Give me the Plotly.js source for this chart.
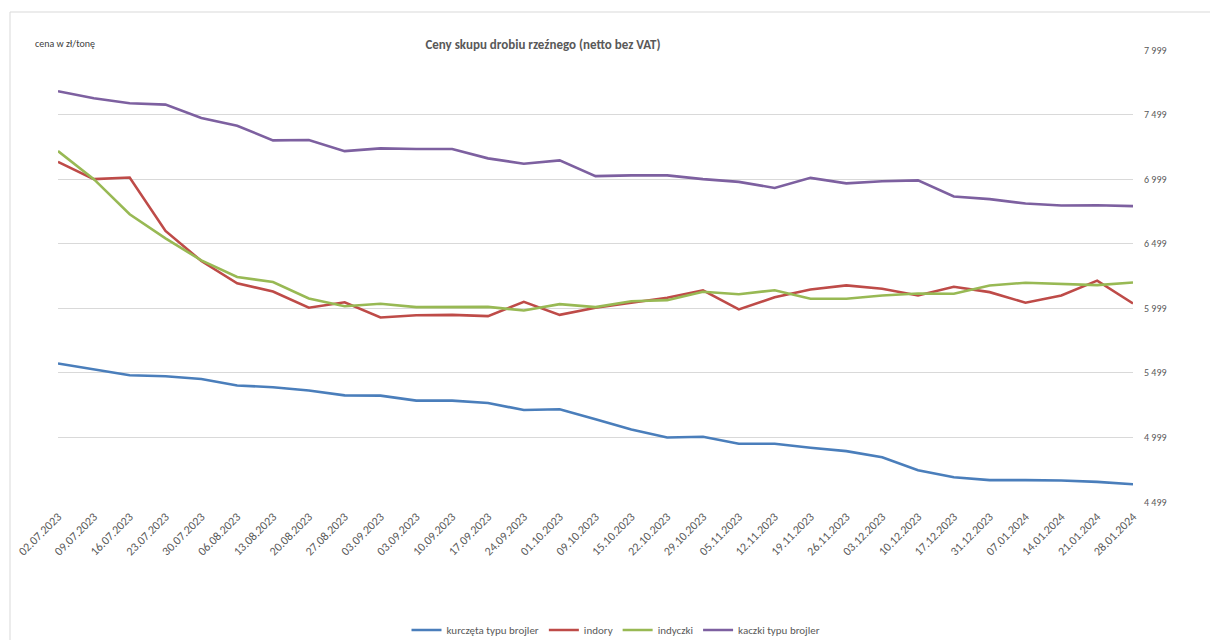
<!DOCTYPE html>
<html>
<head>
<meta charset="utf-8">
<script src="https://cdn.plot.ly/plotly-3.0.1.min.js"></script>
<style>
html,body{margin:0;padding:0;background:#fff;}
#chart{width:1210px;height:640px;}
</style>
</head>
<body>
<div id="chart"></div>
<script>
const dateLabels = ["02.07.2023","09.07.2023","16.07.2023","23.07.2023","30.07.2023","06.08.2023","13.08.2023","20.08.2023","27.08.2023","03.09.2023","03.09.2023","10.09.2023","17.09.2023","24.09.2023","01.10.2023","09.10.2023","15.10.2023","22.10.2023","29.10.2023","05.11.2023","12.11.2023","19.11.2023","26.11.2023","03.12.2023","10.12.2023","17.12.2023","31.12.2023","07.01.2024","14.01.2024","21.01.2024","28.01.2024"];

const kurczeta = [5572,5525,5481,5473,5452,5401,5388,5362,5325,5323,5284,5284,5266,5211,5217,5139,5061,4999,5004,4950,4950,4919,4893,4846,4745,4691,4668,4668,4665,4655,4637];
const indory = [7133,6999,7012,6598,6365,6192,6129,6003,6046,5928,5945,5948,5938,6049,5948,6003,6042,6080,6137,5990,6084,6145,6176,6150,6098,6166,6124,6042,6098,6213,6036];
const indyczki = [7216,6999,6727,6541,6370,6241,6202,6075,6015,6034,6008,6008,6010,5982,6031,6008,6054,6062,6127,6108,6139,6073,6073,6098,6114,6111,6176,6197,6189,6178,6199];
const kaczki = [7680,7626,7587,7576,7473,7413,7299,7302,7216,7237,7232,7232,7160,7118,7144,7022,7028,7028,6999,6978,6931,7009,6966,6983,6989,6865,6844,6810,6795,6797,6790];

const yTickVals = [4499,4999,5499,5999,6499,6999,7499,7999];
const yTickText = ["4 499","4 999","5 499","5 999","6 499","6 999","7 499","7 999"];

const seriesNames = ["kurczęta typu brojler","indory","indyczki","kaczki typu brojler"];
const seriesColors = ["#4a7ebb","#be4b48","#98b954","#7d60a0"];
const seriesValues = [kurczeta, indory, indyczki, kaczki];

const xIdx = dateLabels.map((_, i) => i);
const FONT = "Carlito, 'Liberation Sans Narrow', 'Liberation Sans', sans-serif";

const traces = seriesValues.map((vals, k) => ({
  type: 'scatter',
  mode: 'lines',
  name: seriesNames[k],
  x: xIdx,
  y: vals,
  line: {color: seriesColors[k], width: 2.6},
  hoverinfo: 'skip'
}));

const layout = {
  width: 1210,
  height: 640,
  margin: {l: 58, r: 77, t: 50, b: 138, autoexpand: false},
  paper_bgcolor: '#ffffff',
  plot_bgcolor: '#ffffff',
  font: {family: FONT, color: '#595959', size: 10},
  showlegend: true,
  legend: {
    orientation: 'h',
    x: (616 - 58) / 1075, xanchor: 'center',
    y: -128/452, yanchor: 'middle',
    font: {family: FONT, size: 11, color: '#595959'},
    itemwidth: 30,
    tracegroupgap: 0
  },
  title: {
    text: '<b>Ceny skupu drobiu rzeźnego (netto bez VAT)</b>',
    font: {family: FONT, size: 13, color: '#595959'},
    xref: 'container', yref: 'container',
    x: 543/1210, xanchor: 'center',
    y: 1 - 44/640, yanchor: 'middle'
  },
  xaxis: {
    type: 'linear',
    range: [0, dateLabels.length - 1],
    tickvals: xIdx,
    ticktext: dateLabels,
    tickangle: -45,
    showgrid: false,
    zeroline: false,
    showline: false,
    ticks: 'outside',
    ticklen: 2,
    tickcolor: 'rgba(0,0,0,0)',
    tickfont: {family: FONT, size: 12, color: '#595959'}
  },
  yaxis: {
    range: [4499, 7999],
    side: 'right',
    tickvals: yTickVals,
    ticktext: yTickText,
    showgrid: true,
    gridcolor: '#d9d9d9',
    gridwidth: 1,
    zeroline: false,
    showline: false,
    ticks: 'outside',
    ticklen: 8,
    tickcolor: 'rgba(0,0,0,0)',
    tickfont: {family: FONT, size: 10, color: '#595959'}
  },
  annotations: [{
    text: 'cena w zł/tonę',
    xref: 'paper', yref: 'paper',
    x: (33 - 58) / 1075, xanchor: 'left',
    y: 1 + 7/452, yanchor: 'middle',
    showarrow: false,
    font: {family: FONT, size: 10, color: '#404040'}
  }],
  shapes: [
    {type: 'line', xref: 'paper', yref: 'paper', x0: (10 - 58)/1075, x1: (10 - 58)/1075, y0: 1 + 38/452, y1: -138/452, line: {color: '#d9d9d9', width: 1}},
    {type: 'line', xref: 'paper', yref: 'paper', x0: (10 - 58)/1075, x1: 1 + 77/1075, y0: 1 + 38/452, y1: 1 + 38/452, line: {color: '#d9d9d9', width: 1}}
  ]
};

Plotly.newPlot('chart', traces, layout, {displayModeBar: false, staticPlot: true});
</script>
</body>
</html>
